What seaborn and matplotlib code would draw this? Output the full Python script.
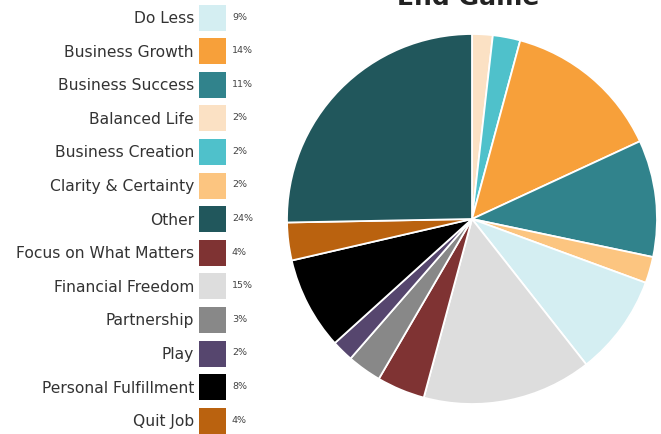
import matplotlib
matplotlib.use("Agg")
import matplotlib.pyplot as plt
import seaborn as sns
from matplotlib.patches import Rectangle

# legend order
categories = ["Do Less", "Business Growth", "Business Success", "Balanced Life",
              "Business Creation", "Clarity & Certainty", "Other",
              "Focus on What Matters", "Financial Freedom", "Partnership",
              "Play", "Personal Fulfillment", "Quit Job"]
pct_labels = ["9%", "14%", "11%", "2%", "2%", "2%", "24%", "4%", "15%", "3%",
              "2%", "8%", "4%"]
colors = ["#D4EEF2", "#F7A03A", "#31838C", "#FBE1C4", "#4FC1CB", "#FCC580",
          "#21575C", "#7F3333", "#DDDDDD", "#888888", "#56466E", "#000000",
          "#BA620F"]

# slice order, clockwise from 12 o'clock, with shares
pie_order = ["Balanced Life", "Business Creation", "Business Growth",
             "Business Success", "Clarity & Certainty", "Do Less",
             "Financial Freedom", "Focus on What Matters", "Partnership",
             "Play", "Personal Fulfillment", "Quit Job", "Other"]
pie_share = [1.8, 2.4, 13.9, 10.2, 2.3, 8.8, 14.8, 4.2, 3.0, 1.9, 8.1, 3.3, 25.3]

sns.set_theme(style="white")
plt.rcParams["font.family"] = ["DejaVu Sans"]

W, H = 661, 435
fig = plt.figure(figsize=(W / 100, H / 100), dpi=100)

col = dict(zip(categories, colors))

# pie
cx, cy, r = 472, 220, 185
ax = fig.add_axes([(cx - r) / W, (H - cy - r) / H, 2 * r / W, 2 * r / H])
wedges, _ = ax.pie(pie_share,
                   colors=[col[c] for c in pie_order],
                   startangle=90, counterclock=False,
                   wedgeprops=dict(edgecolor="white", linewidth=1.3))
for w in wedges:
    w.set_clip_on(False)
ax.set_xlim(-1, 1)
ax.set_ylim(-1, 1)
ax.set_aspect("equal")

# title sits mostly above the top edge, as in the original
fig.text(cx / W - 4 / W, 1 - 5 / H, "End Game", ha="center", va="baseline",
         fontsize=18, fontweight="semibold", color="#222222")

# legend
lg = fig.add_axes([0, 0, 1, 1])
lg.set_xlim(0, W)
lg.set_ylim(H, 0)
lg.axis("off")
lg.patch.set_alpha(0)
for i, (name, p, c) in enumerate(zip(categories, pct_labels, colors)):
    y = 18.5 + i * 33.6
    lg.add_patch(Rectangle((199, y - 13), 27, 26, facecolor=c, edgecolor="none"))
    lg.text(194, y, name, ha="right", va="center", fontsize=11.2, color="#333333")
    lg.text(232, y - 1.5, p, ha="left", va="center", fontsize=6.8, color="#444444")

fig.savefig("out.png", dpi=100)
